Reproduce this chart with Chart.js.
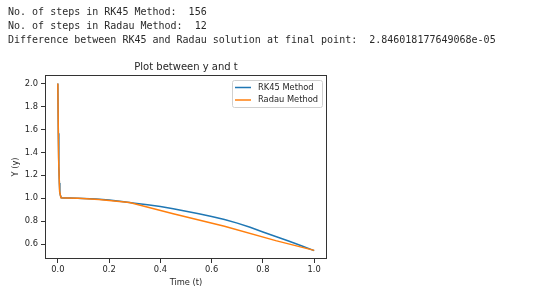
<!DOCTYPE html>
<html>
<head>
<meta charset="utf-8">
<script src="https://cdn.jsdelivr.net/npm/chart.js@4/dist/chart.umd.min.js"></script>
<style>
  body { margin: 0; background: #fff; }
  #wrap { position: relative; width: 560px; height: 296px; }
  #out {
    position: absolute; left: 8px; top: 5px; margin: 0;
    font: 10px/14px "DejaVu Sans Mono", monospace; color: #2a2a2a;
    white-space: pre; z-index: 2;
  }
  canvas { position: absolute; left: 0; top: 0; }
</style>
</head>
<body>
<div id="wrap">
<pre id="out">No. of steps in RK45 Method:  156
No. of steps in Radau Method:  12
Difference between RK45 and Radau solution at final point:  2.846018177649068e-05</pre>
<canvas id="plot" width="560" height="296"></canvas>
</div>
<script>
// data
const chartTitle = 'Plot between y and t';
const xLabel = 'Time (t)';
const yLabel = 'Y (y)';

const rkLabel = 'RK45 Method';
const rkT = [0, 0.002, 0.004, 0.006, 0.008, 0.01, 0.014, 0.02, 0.05, 0.1, 0.15, 0.2, 0.25, 0.3, 0.35, 0.4,
             0.45, 0.5, 0.55, 0.6, 0.65, 0.7, 0.75, 0.8, 0.85, 0.9, 0.95, 1.0];
const rkY = [2.0, 1.567, 1.278, 1.133, 1.049, 1.026, 1.004, 1.003, 1.002, 0.999, 0.993, 0.985, 0.973, 0.958, 0.944, 0.929,
             0.91, 0.888, 0.865, 0.842, 0.815, 0.784, 0.748, 0.707, 0.668, 0.628, 0.587, 0.545];

const radauLabel = 'Radau Method';
const radauT = [0, 0.003, 0.007, 0.012, 0.03, 0.08, 0.16, 0.28, 0.45, 0.65, 0.85, 1.0];
const radauY = [2.0, 1.35, 1.06, 1.004, 1.003, 1.0, 0.99, 0.963, 0.866, 0.757, 0.632, 0.547];

const xTicks = [0.0, 0.2, 0.4, 0.6, 0.8, 1.0];
const yTicks = [0.6, 0.8, 1.0, 1.2, 1.4, 1.6, 1.8, 2.0];

const blue = '#1f77b4';
const orange = '#ff7f0e';
const ink = '#262626';
const tickFont = { family: 'DejaVu Sans', size: 8.3 };

function toPoints(xs, ys) {
    return xs.map((x, i) => ({ x, y: ys[i] }));
}

// frame, title and legend drawn like matplotlib
const mplPlugin = {
    id: 'mpl',
    afterDraw(chart) {
        const { ctx, chartArea: a } = chart;
        ctx.save();
        ctx.strokeStyle = '#333';
        ctx.lineWidth = 1;
        ctx.strokeRect(a.left + 0.5, a.top + 0.5, a.right - a.left - 1, a.bottom - a.top - 1);

        ctx.fillStyle = ink;
        ctx.font = '10px "DejaVu Sans"';
        ctx.textAlign = 'center';
        ctx.textBaseline = 'middle';
        ctx.fillText(chartTitle, (a.left + a.right) / 2, a.top - 8);

        // legend box
        const bx = a.right - 95, by = a.top + 5, bw = 90, bh = 27;
        ctx.fillStyle = 'rgba(255,255,255,0.8)';
        ctx.strokeStyle = '#d0d0d0';
        ctx.beginPath();
        ctx.roundRect(bx + 0.5, by + 0.5, bw, bh, 2);
        ctx.fill();
        ctx.stroke();

        ctx.font = '8.3px "DejaVu Sans"';
        ctx.textAlign = 'left';
        chart.data.datasets.forEach((ds, i) => {
            const y = by + 7.5 + i * 12.5;
            ctx.strokeStyle = ds.borderColor;
            ctx.lineWidth = 1.5;
            ctx.beginPath();
            ctx.moveTo(bx + 3, y);
            ctx.lineTo(bx + 19, y);
            ctx.stroke();
            ctx.fillStyle = ink;
            ctx.fillText(ds.label, bx + 26, y);
        });
        ctx.restore();
    }
};

new Chart(document.getElementById('plot'), {
    type: 'scatter',
    data: {
        datasets: [
            {
                label: rkLabel,
                data: toPoints(rkT, rkY),
                showLine: true,
                borderColor: blue,
                backgroundColor: blue,
                borderWidth: 1.5,
                pointRadius: 0,
                tension: 0,
                order: 1
            },
            {
                label: radauLabel,
                data: toPoints(radauT, radauY),
                showLine: true,
                borderColor: orange,
                backgroundColor: orange,
                borderWidth: 1.5,
                pointRadius: 0,
                tension: 0,
                order: 0
            }
        ]
    },
    options: {
        responsive: false,
        animation: false,
        layout: { padding: { left: 0, top: 75, right: 233, bottom: 0 } },
        plugins: {
            legend: { display: false },
            title: { display: false },
            tooltip: { enabled: false }
        },
        scales: {
            x: {
                type: 'linear',
                min: -0.05,
                max: 1.05,
                afterBuildTicks: axis => { axis.ticks = xTicks.map(v => ({ value: v })); },
                afterFit: axis => { axis.height = 37; },
                grid: { drawOnChartArea: false, drawTicks: true, tickLength: 4, color: '#333' },
                border: { display: false },
                ticks: {
                    font: tickFont,
                    color: ink,
                    padding: 2,
                    maxRotation: 0,
                    callback: v => v.toFixed(1)
                },
                title: {
                    display: true,
                    text: xLabel,
                    font: tickFont,
                    color: ink,
                    padding: { top: 0, bottom: 8 }
                }
            },
            y: {
                type: 'linear',
                min: 0.472,
                max: 2.073,
                afterBuildTicks: axis => { axis.ticks = yTicks.map(v => ({ value: v })); },
                afterFit: axis => { axis.width = 45; },
                grid: { drawOnChartArea: false, drawTicks: true, tickLength: 4, color: '#333' },
                border: { display: false },
                ticks: {
                    font: tickFont,
                    color: ink,
                    padding: 3,
                    callback: v => v.toFixed(1)
                },
                title: {
                    display: true,
                    text: yLabel,
                    font: tickFont,
                    color: ink,
                    padding: { top: 11, bottom: 0 }
                }
            }
        }
    },
    plugins: [mplPlugin]
});
</script>
</body>
</html>
